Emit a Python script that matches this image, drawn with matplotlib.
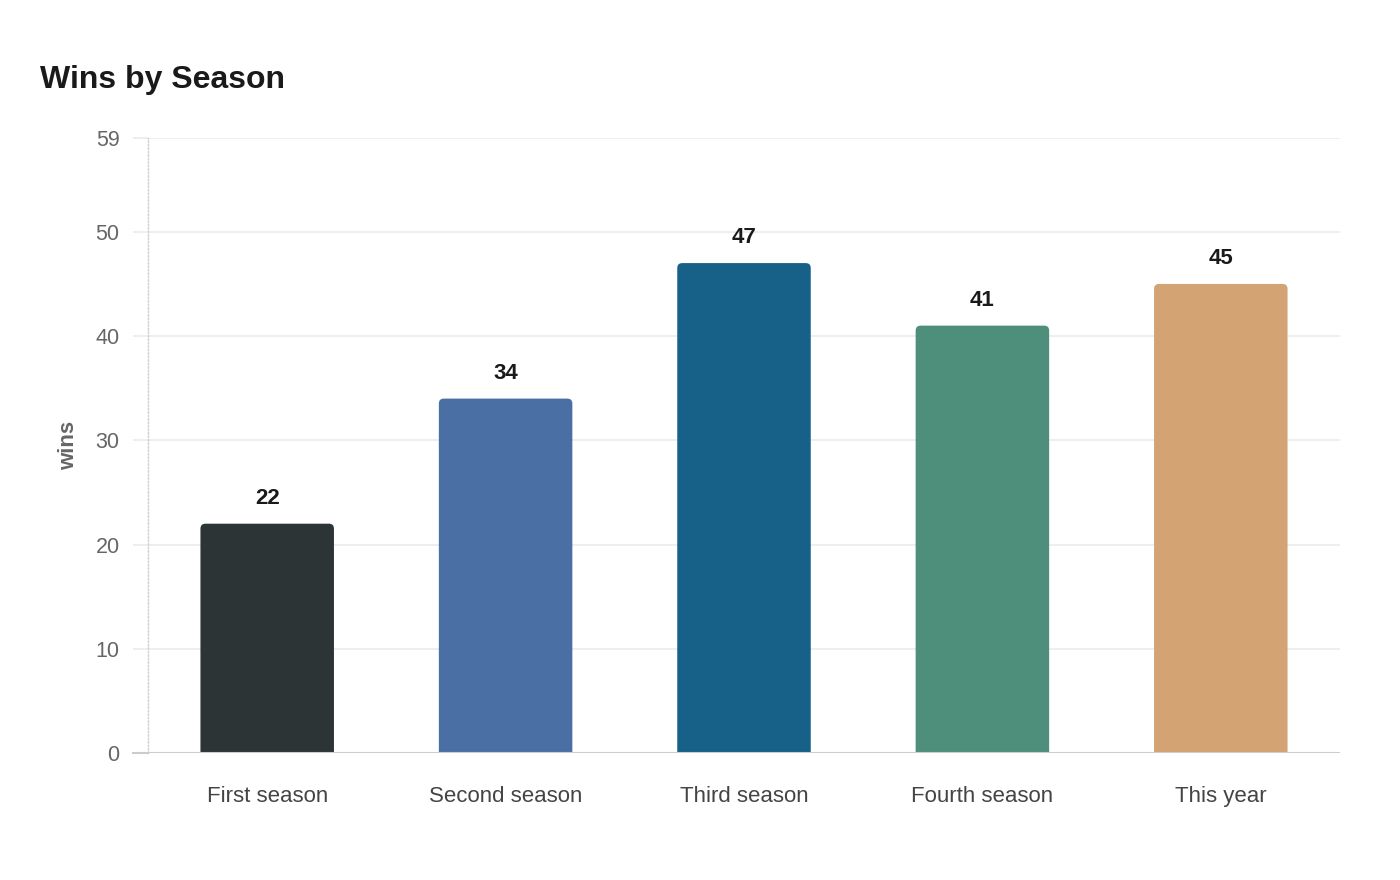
import matplotlib
matplotlib.use('Agg')
import matplotlib.pyplot as plt
from matplotlib.patches import FancyBboxPatch

plt.rcParams['font.family'] = ['Liberation Sans', 'DejaVu Sans']

seasons = ['First season', 'Second season', 'Third season', 'Fourth season', 'This year']
wins = [22, 34, 47, 41, 45]
colors = ['#2d3436', '#4a6fa5', '#176087', '#4e8f7b', '#d4a373']
y_ticks = [0, 10, 20, 30, 40, 50, 59]

fig = plt.figure(figsize=(14, 8.8), dpi=100)
ax = fig.add_axes([148 / 1400, 127 / 880, 1192 / 1400, 615 / 880])
ax.set_xlim(-0.5, len(seasons) - 0.5)
ax.set_ylim(0, 59)

bar_w = 0.56
# data units per pixel, x vs y
px_x = len(seasons) / 1192
px_y = 59 / 615
r = 5 * px_x
for i, (v, c) in enumerate(zip(wins, colors)):
    # start below zero so the bottom corners get clipped square
    p = FancyBboxPatch((i - bar_w / 2, -3), bar_w, v + 3,
                       boxstyle='round,pad=0,rounding_size=%f' % r,
                       mutation_aspect=px_y / px_x,
                       facecolor=c, edgecolor='none', zorder=3)
    ax.add_patch(p)
    ax.text(i, v + 2.45, str(v), ha='center', va='center', fontsize=16,
            fontweight='bold', color='#1a1a1a', zorder=4)

ax.set_xticks(range(len(seasons)))
ax.set_xticklabels(seasons, fontsize=16, color='#444444')
ax.set_yticks(y_ticks)
ax.set_yticklabels([str(t) for t in y_ticks], fontsize=15.5, color='#666666')
ax.tick_params(axis='x', length=0, pad=23.5)
ax.tick_params(axis='y', length=11, color='#ebebeb', width=1.2, pad=9.5)

for t in y_ticks[1:]:
    ax.axhline(t, color='#ebebeb', lw=1.2, zorder=1)
ax.axhline(0, color='#cccccc', lw=1.5, zorder=4)
ax.plot([-0.5 - 15 * px_x, -0.5], [0, 0], color='#cccccc', lw=1.5, clip_on=False, zorder=4)

for s in ['top', 'right', 'bottom']:
    ax.spines[s].set_visible(False)
ax.spines['left'].set_color('#d0d0d0')
ax.spines['left'].set_linestyle((0, (1, 1.5)))
ax.spines['left'].set_linewidth(1)

ax.set_ylabel('wins', fontsize=16, fontweight='bold', color='#666666', labelpad=12)

fig.text(40 / 1400, 1 - 80 / 880, 'Wins by Season', fontsize=23, fontweight='bold',
         color='#1a1a1a', ha='left', va='center')

fig.savefig('out.png', dpi=100, facecolor='white')
